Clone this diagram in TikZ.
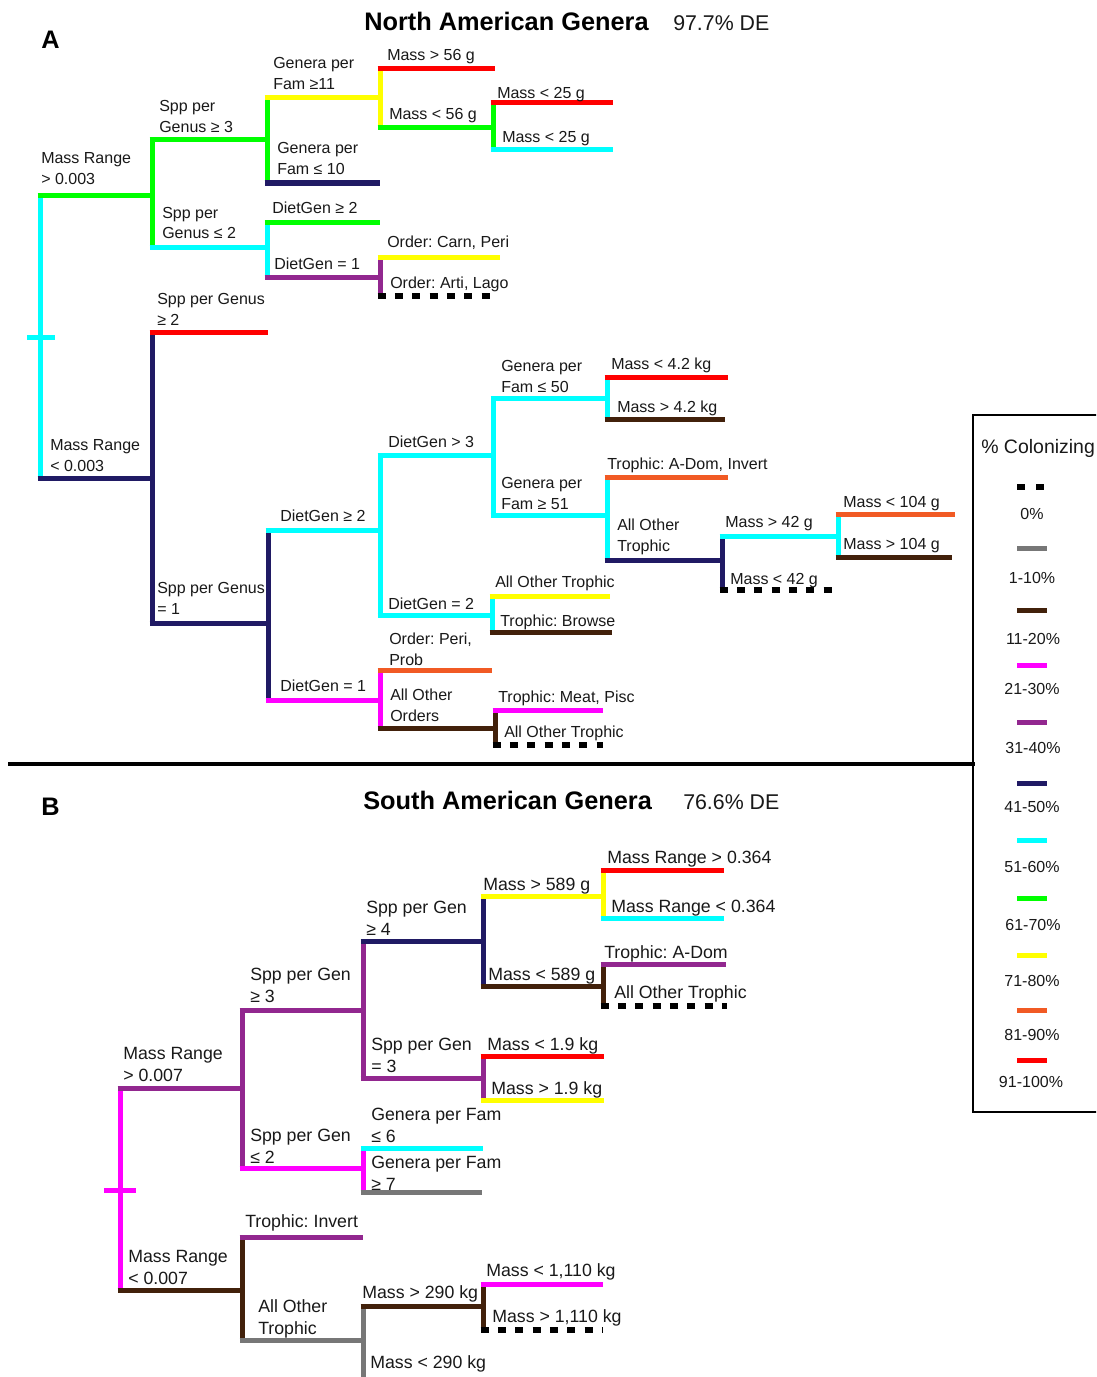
\documentclass[tikz,border=0pt]{standalone}
\usepackage{fontspec}
\setmainfont{Liberation Sans}
\definecolor{cCyan}{RGB}{0,255,255}
\definecolor{cGreen}{RGB}{0,255,0}
\definecolor{cYellow}{RGB}{255,255,0}
\definecolor{cRed}{RGB}{255,0,0}
\definecolor{cNavy}{RGB}{32,26,100}
\definecolor{cPurple}{RGB}{146,39,143}
\definecolor{cMag}{RGB}{255,0,255}
\definecolor{cBrown}{RGB}{66,33,11}
\definecolor{cOrange}{RGB}{241,90,36}
\definecolor{cGray}{RGB}{119,119,119}
\definecolor{cLtGray}{RGB}{180,180,180}
\definecolor{txt}{RGB}{25,25,25}
\newcommand\lbf{\fontsize{12}{15.75}\selectfont}
\newcommand\lbfB{\fontsize{13.3}{16.5}\selectfont}
\newcommand\tl[2]{\begin{tabular}[t]{@{}l@{}}#1\\#2\end{tabular}}
\newcommand\hbr[3]{\draw[hb,#3] (#1 |- #2) -- (#2);}
\newcommand\vbr[4]{\draw[br,#4] (#1 |- #2) -- (#1 |- #3);}
\newcommand\zbr[2]{\draw[zero] (#1 |- #2) -- (#2);}
\begin{document}
\frenchspacing
\begin{tikzpicture}[x=0.75pt,y=-0.75pt,
  br/.style={line width=3.75pt},
  hb/.style={line width=3.75pt, shorten <=-1.875pt},
  zero/.style={line width=4.5pt, black, dash pattern=on 6pt off 7pt, shorten <=-1.875pt},
  lbl/.style={anchor=base west, inner sep=0pt, font=\lbf, text=txt},
  lblB/.style={anchor=base west, inner sep=0pt, font=\lbfB, text=txt},
  ttl/.style={anchor=base west, inner sep=0pt, font=\bfseries\fontsize{19}{22}\selectfont, text=black},
  de/.style={anchor=base west, inner sep=0pt, font=\fontsize{16}{19}\selectfont, text=txt},
  leg/.style={anchor=base, inner sep=0pt, font=\lbf, text=txt}]
\path[use as bounding box] (0,0) rectangle (1096,1377);
\clip (0,0) rectangle (1096,1377);
\fill[white] (0,0) rectangle (1096,1377);

% ---------------- Panel A ----------------
\node[ttl] (labA) at (41,49) {A};
\node[ttl] (titA) at (364,31) {North American Genera};
\node[de] (deA) at (673,31) {97.7\% DE};

\coordinate (rA) at (40,337);
\coordinate (a1) at (152,195);
\coordinate (a2) at (152,478);
\coordinate (a11) at (267,140);
\coordinate (a12) at (267,247);
\coordinate (a111) at (380,98);
\coordinate (a112) at (380,183);
\coordinate (a1111) at (495,69);
\coordinate (a1112) at (493,128);
\coordinate (a11121) at (613,103);
\coordinate (a11122) at (613,150);
\coordinate (a121) at (380,222);
\coordinate (a122) at (380,277);
\coordinate (a1221) at (500,257);
\coordinate (a1222) at (490,296);
\coordinate (a21) at (268,332);
\coordinate (a22) at (268,623);
\coordinate (a221) at (380,530);
\coordinate (a222) at (380,700);
\coordinate (a2211) at (493,455);
\coordinate (a2212) at (492,615);
\coordinate (a22111) at (607,398);
\coordinate (a22112) at (607,515);
\coordinate (a221111) at (728,377);
\coordinate (a221112) at (725,419);
\coordinate (a221121) at (728,477);
\coordinate (a221122) at (722,560);
\coordinate (a2211221) at (838,536);
\coordinate (a2211222) at (833,590);
\coordinate (a22112211) at (955,514);
\coordinate (a22112212) at (952,557);
\coordinate (a22121) at (610,596);
\coordinate (a22122) at (612,632);
\coordinate (a2221) at (492,670);
\coordinate (a2222) at (495,728);
\coordinate (a22221) at (603,710);
\coordinate (a22222) at (603,745);

% verticals
\vbr{rA}{a1}{a2}{cCyan}
\draw[br,cCyan] ([xshift=-9.75pt]rA) -- ([xshift=11.25pt]rA);
\vbr{a1}{a11}{a12}{cGreen}
\vbr{a11}{a111}{a112}{cGreen}
\vbr{a111}{a1111}{a1112}{cYellow}
\vbr{a1112}{a11121}{a11122}{cGreen}
\vbr{a12}{a121}{a122}{cCyan}
\vbr{a122}{a1221}{a1222}{cPurple}
\vbr{a2}{a21}{a22}{cNavy}
\vbr{a22}{a221}{a222}{cNavy}
\vbr{a221}{a2211}{a2212}{cCyan}
\vbr{a2211}{a22111}{a22112}{cCyan}
\vbr{a22111}{a221111}{a221112}{cCyan}
\vbr{a22112}{a221121}{a221122}{cCyan}
\vbr{a221122}{a2211221}{a2211222}{cNavy}
\vbr{a2211221}{a22112211}{a22112212}{cCyan}
\vbr{a2212}{a22121}{a22122}{cCyan}
\vbr{a222}{a2221}{a2222}{cMag}
\vbr{a2222}{a22221}{a22222}{cBrown}

% horizontals
\hbr{rA}{a1}{cGreen}
\hbr{rA}{a2}{cNavy}
\hbr{a1}{a11}{cGreen}
\hbr{a1}{a12}{cCyan}
\hbr{a11}{a111}{cYellow}
\hbr{a11}{a112}{cNavy}
\hbr{a111}{a1111}{cRed}
\hbr{a111}{a1112}{cGreen}
\hbr{a1112}{a11121}{cRed}
\hbr{a1112}{a11122}{cCyan}
\hbr{a12}{a121}{cGreen}
\hbr{a12}{a122}{cPurple}
\hbr{a122}{a1221}{cYellow}
\zbr{a122}{a1222}
\hbr{a2}{a21}{cRed}
\hbr{a2}{a22}{cNavy}
\hbr{a22}{a221}{cCyan}
\hbr{a22}{a222}{cMag}
\hbr{a221}{a2211}{cCyan}
\hbr{a221}{a2212}{cCyan}
\hbr{a2211}{a22111}{cCyan}
\hbr{a2211}{a22112}{cCyan}
\hbr{a22111}{a221111}{cRed}
\hbr{a22111}{a221112}{cBrown}
\hbr{a22112}{a221121}{cOrange}
\hbr{a22112}{a221122}{cNavy}
\hbr{a221122}{a2211221}{cCyan}
\zbr{a221122}{a2211222}
\hbr{a2211221}{a22112211}{cOrange}
\hbr{a2211221}{a22112212}{cBrown}
\hbr{a2212}{a22121}{cYellow}
\hbr{a2212}{a22122}{cBrown}
\hbr{a222}{a2221}{cOrange}
\hbr{a222}{a2222}{cBrown}
\hbr{a2222}{a22221}{cMag}
\zbr{a2222}{a22222}

% labels A
\node[lbl] (t1) at (41,164) {\tl{Mass Range}{> 0.003}};
\node[lbl] (t2) at (50,450) {\tl{Mass Range}{< 0.003}};
\node[lbl] (t3) at (159,112) {\tl{Spp per}{Genus ≥ 3}};
\node[lbl] (t4) at (162,218) {\tl{Spp per}{Genus ≤ 2}};
\node[lbl] (t5) at (273,69) {\tl{Genera per}{Fam ≥11}};
\node[lbl] (t6) at (277,154) {\tl{Genera per}{Fam ≤ 10}};
\node[lbl] (t7) at (387,61) {Mass > 56 g};
\node[lbl] (t8) at (389,120) {Mass < 56 g};
\node[lbl] (t9) at (497,99) {Mass < 25 g};
\node[lbl] (t10) at (502,143) {Mass < 25 g};
\node[lbl] (t11) at (272,214) {DietGen ≥ 2};
\node[lbl] (t12) at (274,269) {DietGen = 1};
\node[lbl] (t13) at (387,247) {Order: Carn, Peri};
\node[lbl] (t14) at (390,288) {Order: Arti, Lago};
\node[lbl] (t15) at (157,304) {\tl{Spp per Genus}{≥ 2}};
\node[lbl] (t16) at (157,593) {\tl{Spp per Genus}{= 1}};
\node[lbl] (t17) at (280,521) {DietGen ≥ 2};
\node[lbl] (t18) at (280,691) {DietGen = 1};
\node[lbl] (t19) at (388,447) {DietGen > 3};
\node[lbl] (t20) at (388,609) {DietGen = 2};
\node[lbl] (t21) at (501,371) {\tl{Genera per}{Fam ≤ 50}};
\node[lbl] (t22) at (501,488) {\tl{Genera per}{Fam ≥ 51}};
\node[lbl] (t23) at (611,369) {Mass < 4.2 kg};
\node[lbl] (t24) at (617,412) {Mass > 4.2 kg};
\node[lbl] (t25) at (607,469) {Trophic: A-Dom, Invert};
\node[lbl] (t26) at (617,530) {\tl{All Other}{Trophic}};
\node[lbl] (t27) at (725,527) {Mass > 42 g};
\node[lbl] (t28) at (730,584) {Mass < 42 g};
\node[lbl] (t29) at (843,507) {Mass < 104 g};
\node[lbl] (t30) at (843,549) {Mass > 104 g};
\node[lbl] (t31) at (495,587) {All Other Trophic};
\node[lbl] (t32) at (500,626) {Trophic: Browse};
\node[lbl] (t33) at (389,644) {\tl{Order: Peri,}{Prob}};
\node[lbl] (t34) at (390,700) {\tl{All Other}{Orders}};
\node[lbl] (t35) at (498,702) {Trophic: Meat, Pisc};
\node[lbl] (t36) at (504,737) {All Other Trophic};

% separator
\coordinate (sepL) at (8,764);
\coordinate (sepR) at (975,764);
\draw[line width=2.6pt, black] (sepL) -- (sepR);

% ---------------- Panel B ----------------
\node[ttl] (labB) at (41,815) {B};
\node[ttl] (titB) at (363,809) {South American Genera};
\node[de] (deB) at (683,809) {76.6\% DE};

\coordinate (rB) at (120,1190);
\coordinate (b1) at (242,1088);
\coordinate (b2) at (242,1290);
\coordinate (b11) at (363,1010);
\coordinate (b12) at (363,1168);
\coordinate (b111) at (483,941);
\coordinate (b112) at (483,1078);
\coordinate (b1111) at (603,896);
\coordinate (b1112) at (603,986);
\coordinate (b11111) at (724,870);
\coordinate (b11112) at (724,918);
\coordinate (b11121) at (726,964);
\coordinate (b11122) at (727,1006);
\coordinate (b1121) at (604,1056);
\coordinate (b1122) at (604,1100);
\coordinate (b121) at (483,1148);
\coordinate (b122) at (482,1192);
\coordinate (b21) at (363,1237);
\coordinate (b22) at (363,1340);
\coordinate (b221) at (483,1306);
\coordinate (b222) at (480,1379);
\coordinate (b2211) at (603,1284);
\coordinate (b2212) at (602,1330);

\vbr{rB}{b1}{b2}{cMag}
\draw[br,cMag] ([xshift=-12pt]rB) -- ([xshift=12pt]rB);
\vbr{b1}{b11}{b12}{cPurple}
\vbr{b11}{b111}{b112}{cPurple}
\vbr{b111}{b1111}{b1112}{cNavy}
\vbr{b1111}{b11111}{b11112}{cYellow}
\vbr{b1112}{b11121}{b11122}{cBrown}
\vbr{b112}{b1121}{b1122}{cPurple}
\vbr{b12}{b121}{b122}{cMag}
\vbr{b2}{b21}{b22}{cBrown}
\vbr{b22}{b221}{b222}{cGray}
\vbr{b221}{b2211}{b2212}{cBrown}

\hbr{rB}{b1}{cPurple}
\hbr{rB}{b2}{cBrown}
\hbr{b1}{b11}{cPurple}
\hbr{b1}{b12}{cMag}
\hbr{b11}{b111}{cNavy}
\hbr{b11}{b112}{cPurple}
\hbr{b111}{b1111}{cYellow}
\hbr{b111}{b1112}{cBrown}
\hbr{b1111}{b11111}{cRed}
\hbr{b1111}{b11112}{cCyan}
\hbr{b1112}{b11121}{cPurple}
\zbr{b1112}{b11122}
\hbr{b112}{b1121}{cRed}
\hbr{b112}{b1122}{cYellow}
\hbr{b12}{b121}{cCyan}
\hbr{b12}{b122}{cGray}
\hbr{b2}{b21}{cPurple}
\hbr{b2}{b22}{cGray}
\hbr{b22}{b221}{cBrown}
\hbr{b22}{b222}{cLtGray}
\hbr{b221}{b2211}{cMag}
\zbr{b221}{b2212}

\node[lblB] (u1) at (123,1059) {\tl{Mass Range}{> 0.007}};
\node[lblB] (u2) at (128,1262) {\tl{Mass Range}{< 0.007}};
\node[lblB] (u3) at (250,980) {\tl{Spp per Gen}{≥ 3}};
\node[lblB] (u4) at (250,1141) {\tl{Spp per Gen}{≤ 2}};
\node[lblB] (u5) at (366,913) {\tl{Spp per Gen}{≥ 4}};
\node[lblB] (u6) at (371,1050) {\tl{Spp per Gen}{= 3}};
\node[lblB] (u7) at (483,890) {Mass > 589 g};
\node[lblB] (u8) at (488,980) {Mass < 589 g};
\node[lblB] (u9) at (607,863) {Mass Range > 0.364};
\node[lblB] (u10) at (611,912) {Mass Range < 0.364};
\node[lblB] (u11) at (604,958) {Trophic: A-Dom};
\node[lblB] (u12) at (614,998) {All Other Trophic};
\node[lblB] (u13) at (487,1050) {Mass < 1.9 kg};
\node[lblB] (u14) at (491,1094) {Mass > 1.9 kg};
\node[lblB] (u15) at (371,1120) {\tl{Genera per Fam}{≤ 6}};
\node[lblB] (u16) at (371,1168) {\tl{Genera per Fam}{≥ 7}};
\node[lblB] (u17) at (245,1227) {Trophic: Invert};
\node[lblB] (u18) at (258,1312) {\tl{All Other}{Trophic}};
\node[lblB] (u19) at (362,1298) {Mass > 290 kg};
\node[lblB] (u20) at (370,1368) {Mass < 290 kg};
\node[lblB] (u21) at (486,1276) {Mass < 1,110 kg};
\node[lblB] (u22) at (492,1322) {Mass > 1,110 kg};

% ---------------- Legend ----------------
\draw[line width=1.5pt, black] (1120,415) -- (973,415) -- (973,1112) -- (1120,1112);
\node[anchor=base west, inner sep=0pt, font=\fontsize{14.6}{17}\selectfont, text=txt] (legT) at (981,453) {\% Colonizing};
\draw[black, line width=4.5pt, dash pattern=on 6pt off 8.25pt] (1017,487) -- (1047,487);
\node[leg] (g0) at (1032,519) {0\%};
\draw[br,cGray] (1017,548) -- (1047,548);
\node[leg] (g1) at (1032,583) {1-10\%};
\draw[br,cBrown] (1017,610) -- (1047,610);
\node[leg] (g2) at (1033,644) {11-20\%};
\draw[br,cMag] (1017,665) -- (1047,665);
\node[leg] (g3) at (1032,694) {21-30\%};
\draw[br,cPurple] (1017,722) -- (1047,722);
\node[leg] (g4) at (1033,753) {31-40\%};
\draw[br,cNavy] (1017,783) -- (1047,783);
\node[leg] (g5) at (1032,812) {41-50\%};
\draw[br,cCyan] (1017,840) -- (1047,840);
\node[leg] (g6) at (1032,872) {51-60\%};
\draw[br,cGreen] (1017,898) -- (1047,898);
\node[leg] (g7) at (1033,930) {61-70\%};
\draw[br,cYellow] (1017,955) -- (1047,955);
\node[leg] (g8) at (1032,986) {71-80\%};
\draw[br,cOrange] (1017,1010) -- (1047,1010);
\node[leg] (g9) at (1032,1040) {81-90\%};
\draw[br,cRed] (1017,1060) -- (1047,1060);
\node[leg] (g10) at (1031,1087) {91-100\%};
\end{tikzpicture}
\end{document}
